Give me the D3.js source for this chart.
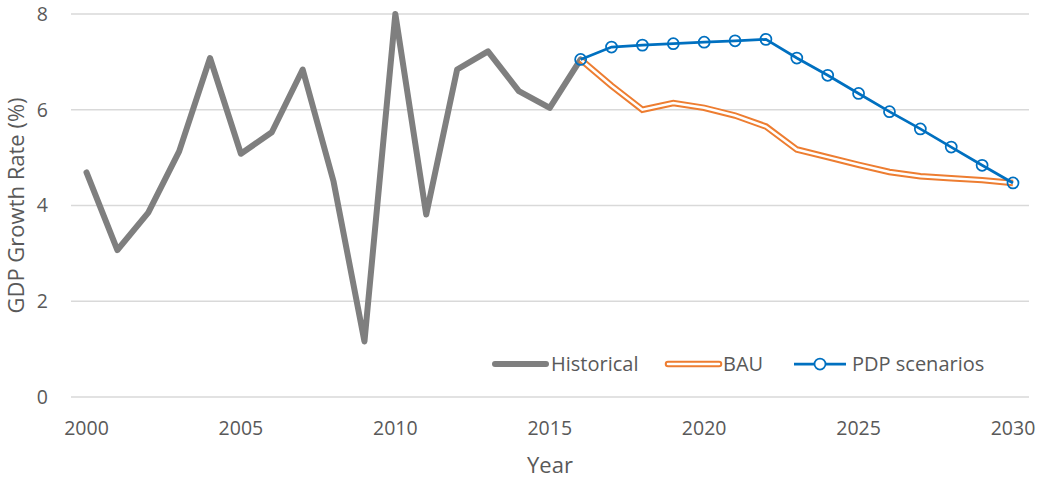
<!DOCTYPE html>
<html lang="en">
<head>
    <meta charset="UTF-8">
    <script src="https://d3js.org/d3.v7.min.js"></script>
    <title>GDP Growth Rate</title>
    <style>
        html,
        body {
            margin: 0px;
            padding: 0px;
            background-color: #ffffff;
            font-family: "Open Sans", sans-serif;
            color: #595959;
        }
    </style>
</head>
<body>
    <div id='chart'></div>
    <script>

        const histYears = d3.range(2000, 2017);
        const histValues = [4.69, 3.07, 3.85, 5.13, 7.08, 5.08, 5.53, 6.84, 4.50, 1.16, 8.00, 3.81, 6.84, 7.22, 6.39, 6.04, 7.05];

        const projYears = d3.range(2016, 2031);
        const bauValues = [7.05, 6.50, 6.00, 6.14, 6.04, 5.88, 5.65, 5.17, 5.01, 4.85, 4.70, 4.61, 4.57, 4.53, 4.47];
        const pdpValues = [7.05, 7.31, 7.35, 7.38, 7.41, 7.44, 7.47, 7.08, 6.72, 6.34, 5.96, 5.60, 5.22, 4.84, 4.47];

        const yTicks = [0, 2, 4, 6, 8];
        const xTicks = [2000, 2005, 2010, 2015, 2020, 2025, 2030];

        const width = 1039, height = 479;
        const gridLeft = 71, gridRight = 1029;

        const svg = d3.select('#chart').append('svg')
            .attr('width', width).attr('height', height);

        const x = d3.scaleLinear().domain([2000, 2030]).range([86.5, 1013]);
        const y = d3.scaleLinear().domain([0, 8]).range([397, 14]);

        // gridlines
        svg.append('g')
            .selectAll('line')
            .data(yTicks)
            .join('line')
            .attr('x1', gridLeft).attr('x2', gridRight)
            .attr('y1', d => y(d)).attr('y2', d => y(d))
            .attr('stroke', '#d9d9d9')
            .attr('stroke-width', 1.5);

        // y tick labels
        svg.append('g')
            .selectAll('text')
            .data(yTicks)
            .join('text')
            .attr('x', 48).attr('y', d => y(d))
            .attr('dy', '0.35em')
            .attr('text-anchor', 'end')
            .attr('font-size', 19.5)
            .attr('fill', '#595959')
            .text(d => d);

        // x tick labels
        svg.append('g')
            .selectAll('text')
            .data(xTicks)
            .join('text')
            .attr('x', d => x(d)).attr('y', 428)
            .attr('dy', '0.35em')
            .attr('text-anchor', 'middle')
            .attr('font-size', 19.5)
            .attr('fill', '#595959')
            .text(d => d);

        svg.append('text')
            .attr('x', 550).attr('y', 465)
            .attr('dy', '0.35em')
            .attr('text-anchor', 'middle')
            .attr('font-size', 22)
            .attr('fill', '#595959')
            .text('Year');

        svg.append('text')
            .attr('transform', `translate(16, ${(y(0) + y(8)) / 2}) rotate(-90)`)
            .attr('dy', '0.35em')
            .attr('text-anchor', 'middle')
            .attr('font-size', 22)
            .attr('fill', '#595959')
            .text('GDP Growth Rate (%)');

        const line = d3.line().x(d => x(d[0])).y(d => y(d[1]));

        const hist = histYears.map((yr, i) => [yr, histValues[i]]);
        const bau = projYears.map((yr, i) => [yr, bauValues[i]]);
        const pdp = projYears.map((yr, i) => [yr, pdpValues[i]]);

        svg.append('path')
            .attr('d', line(hist))
            .attr('fill', 'none')
            .attr('stroke', '#7f7f7f')
            .attr('stroke-width', 6)
            .attr('stroke-linejoin', 'round')
            .attr('stroke-linecap', 'round');

        // BAU double line
        svg.append('path')
            .attr('d', line(bau))
            .attr('fill', 'none')
            .attr('stroke', '#ed7d31')
            .attr('stroke-width', 6.5);
        svg.append('path')
            .attr('d', line(bau))
            .attr('fill', 'none')
            .attr('stroke', '#ffffff')
            .attr('stroke-width', 2.5);

        svg.append('path')
            .attr('d', line(pdp))
            .attr('fill', 'none')
            .attr('stroke', '#0070c0')
            .attr('stroke-width', 2.75);

        svg.append('g')
            .selectAll('circle')
            .data(pdp)
            .join('circle')
            .attr('cx', d => x(d[0])).attr('cy', d => y(d[1]))
            .attr('r', 5.5)
            .attr('fill', 'none')
            .attr('stroke', '#0070c0')
            .attr('stroke-width', 1.75);

        // legend
        const ly = 364;
        const legend = svg.append('g');
        legend.append('line')
            .attr('x1', 495).attr('x2', 546).attr('y1', ly).attr('y2', ly)
            .attr('stroke', '#7f7f7f').attr('stroke-width', 6).attr('stroke-linecap', 'round');
        legend.append('text').attr('x', 551).attr('y', ly).attr('dy', '0.35em')
            .attr('font-size', 20).attr('fill', '#595959').text('Historical');

        legend.append('line')
            .attr('x1', 668).attr('x2', 719).attr('y1', ly).attr('y2', ly)
            .attr('stroke', '#ed7d31').attr('stroke-width', 6.5).attr('stroke-linecap', 'round');
        legend.append('line')
            .attr('x1', 668).attr('x2', 719).attr('y1', ly).attr('y2', ly)
            .attr('stroke', '#ffffff').attr('stroke-width', 2.5).attr('stroke-linecap', 'round');
        legend.append('text').attr('x', 723).attr('y', ly).attr('dy', '0.35em')
            .attr('font-size', 20).attr('fill', '#595959').text('BAU');

        legend.append('line')
            .attr('x1', 794).attr('x2', 846).attr('y1', ly).attr('y2', ly)
            .attr('stroke', '#0070c0').attr('stroke-width', 2.75);
        legend.append('circle')
            .attr('cx', 820).attr('cy', ly).attr('r', 5.5)
            .attr('fill', '#ffffff').attr('stroke', '#0070c0').attr('stroke-width', 1.75);
        legend.append('text').attr('x', 852).attr('y', ly).attr('dy', '0.35em')
            .attr('font-size', 20).attr('fill', '#595959').text('PDP scenarios');

    </script>
</body>
</html>
